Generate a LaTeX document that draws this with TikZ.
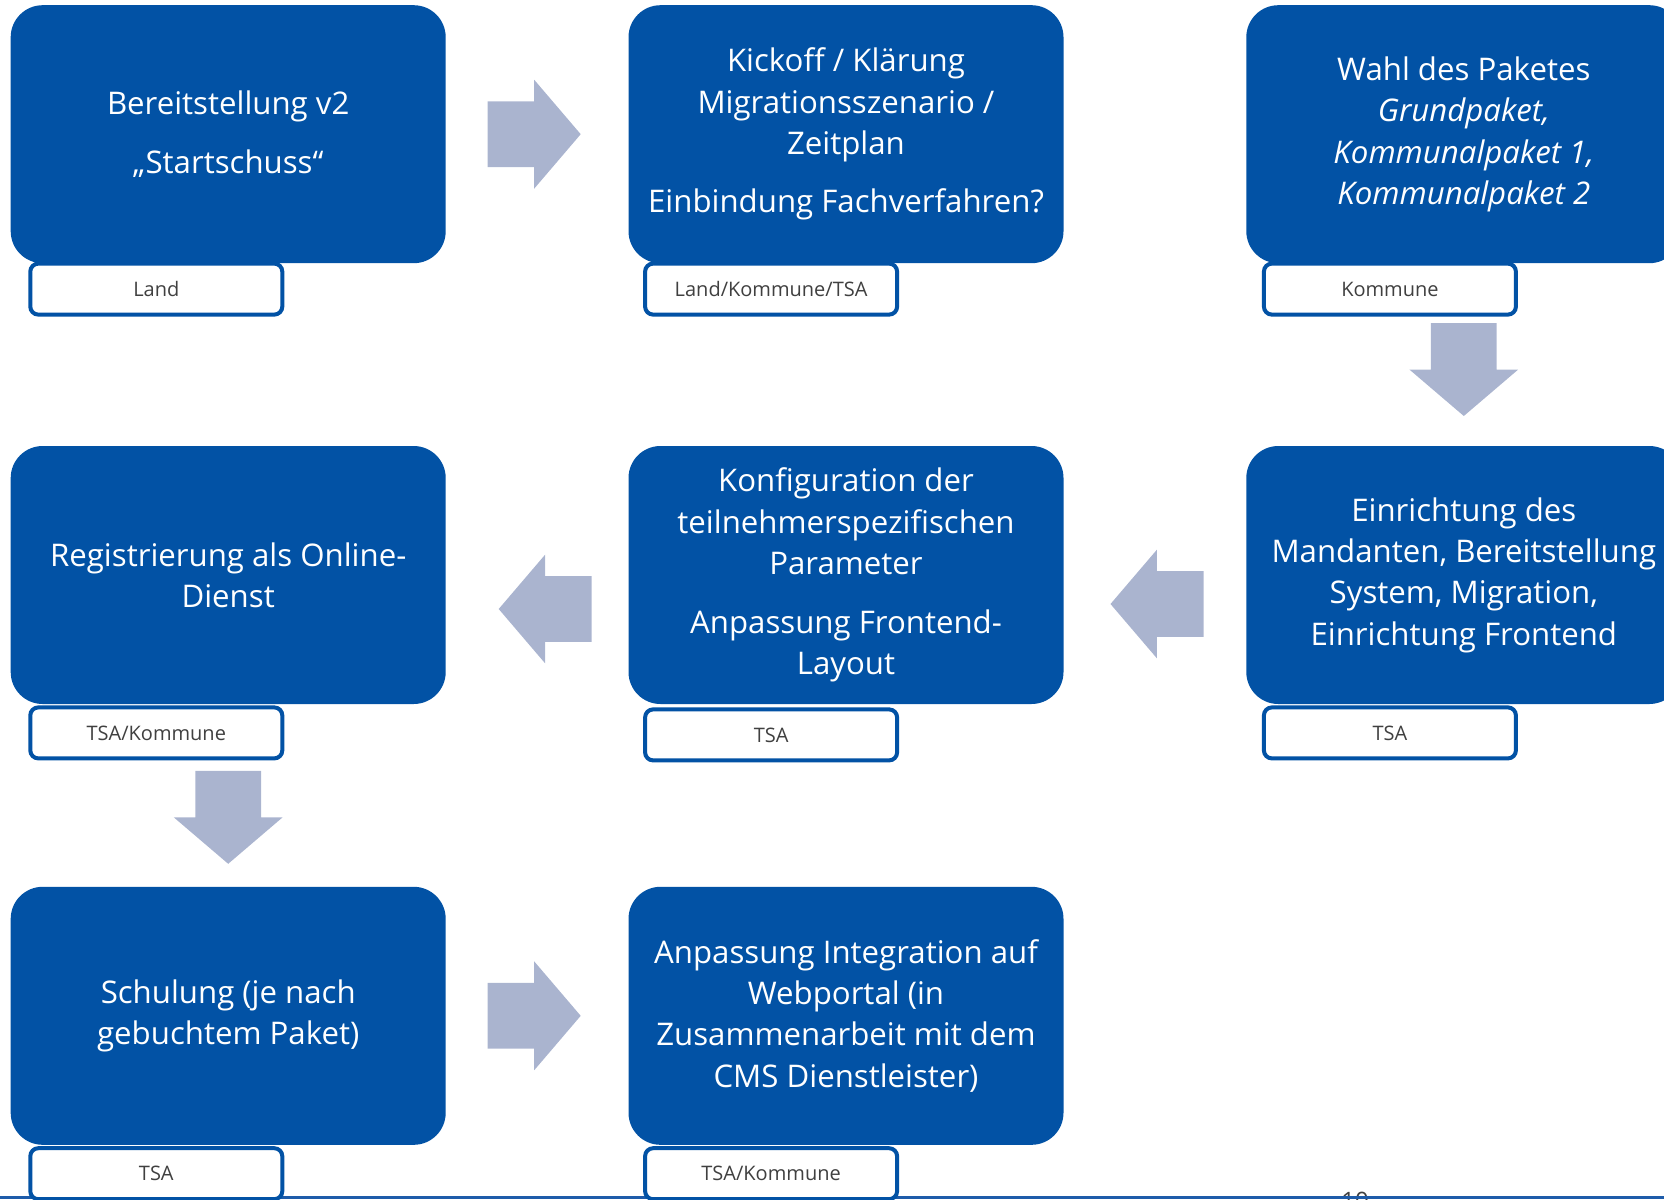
\documentclass[tikz,border=0pt]{standalone}
\usepackage{fontspec}
\setmainfont{Open Sans}
\usepackage{tikz}
\usetikzlibrary{positioning,calc,shapes.arrows}
\usepackage{xcolor}
\definecolor{boxblue}{RGB}{2,82,165}
\definecolor{arrowgray}{RGB}{170,180,207}
\definecolor{tagtext}{RGB}{64,64,64}
\definecolor{lineblue}{RGB}{30,92,170}

\begin{document}
\begin{tikzpicture}[
    x=0.5pt, y=-0.5pt,
    node distance=91pt and 91pt,
    block/.style={rectangle, fill=boxblue, rounded corners=16pt, minimum width=217.5pt, minimum height=129pt, inner sep=0pt, align=center, text=white, font=\fontsize{15.6}{20.7}\selectfont, execute at begin node={\rule{0pt}{15.5pt}}},
    tagbox/.style={rectangle, draw=boxblue, line width=2pt, fill=white, rounded corners=4pt, minimum width=126pt, minimum height=25.5pt, inner sep=0pt, anchor=north west, font=\fontsize{10}{12}\selectfont, text=tagtext},
    flowarrow/.style={single arrow, fill=arrowgray, inner xsep=0pt, inner ysep=16.25pt, minimum height=46.5pt, single arrow head extend=10.75pt, single arrow tip angle=99, anchor=tail},
    bottomline/.style={draw=lineblue, line width=1.5pt},
    pagenum/.style={font=\fontsize{12}{14}\selectfont, text=tagtext, anchor=north, inner sep=0pt}
]
\useasboundingbox (0,0) rectangle (1664,1199);

% row 1
\node[block] (b1) at (228.2,134.2) {Bereitstellung v2\\[8.5pt]„Startschuss“};
\node[block, right=of b1] (b2) {Kickoff / Klärung\\Migrationsszenario /\\Zeitplan\\[8.5pt]Einbindung Fachverfahren?};
\node[block, right=of b2] (b3) {Wahl des Paketes\\\textit{Grundpaket,}\\\textit{Kommunalpaket 1,}\\\textit{Kommunalpaket 2}};

% row 2
\node[block, below=of b1] (b6) {Registrierung als Online-\\Dienst};
\node[block, right=of b6] (b5) {Konfiguration der\\teilnehmerspezifischen\\Parameter\\[8.5pt]Anpassung Frontend-\\Layout};
\node[block, right=of b5] (b4) {Einrichtung des\\Mandanten, Bereitstellung\\System, Migration,\\Einrichtung Frontend};

% row 3
\node[block, below=of b6] (b7) {Schulung (je nach\\gebuchtem Paket)};
\node[block, right=of b7] (b8) {Anpassung Integration auf\\Webportal (in\\Zusammenarbeit mit dem\\CMS Dienstleister)};

% block arrows
\node[flowarrow] (a1) at ([xshift=20.6pt]b1.east) {};
\node[flowarrow, rotate=-90] (a2) at ([yshift=-29.5pt]b3.south) {};
\node[flowarrow, rotate=180] (a3) at ([xshift=-21pt,yshift=-14.5pt]b4.west) {};
\node[flowarrow, rotate=180] (a4) at ([xshift=-18pt,yshift=-17pt]b5.west) {};
\node[flowarrow, rotate=-90] (a5) at ([yshift=-33pt]b6.south) {};
\node[flowarrow] (a6) at ([xshift=20.6pt]b7.east) {};

% footer
\node[pagenum] (pnum) at (1355,1192) {10};
\coordinate (fl) at (0,1197.5);
\coordinate (fr) at (1664,1197.5);
\draw[bottomline] (fl) -- (fr);

% who is responsible
\node[tagbox] (t1) at ([xshift=9pt,yshift=1pt]b1.south west) {Land};
\node[tagbox] (t2) at ([xshift=7.5pt,yshift=1pt]b2.south west) {Land/Kommune/TSA};
\node[tagbox] (t3) at ([xshift=8pt,yshift=1pt]b3.south west) {Kommune};
\node[tagbox] (t6) at ([xshift=9pt,yshift=-0.5pt]b6.south west) {TSA/Kommune};
\node[tagbox] (t5) at ([xshift=7.5pt,yshift=-1.5pt]b5.south west) {TSA};
\node[tagbox] (t4) at ([xshift=8pt,yshift=-0.5pt]b4.south west) {TSA};
\node[tagbox] (t7) at ([xshift=9pt,yshift=-0.5pt]b7.south west) {TSA};
\node[tagbox] (t8) at ([xshift=7.5pt,yshift=-0.5pt]b8.south west) {TSA/Kommune};

\end{tikzpicture}
\end{document}
